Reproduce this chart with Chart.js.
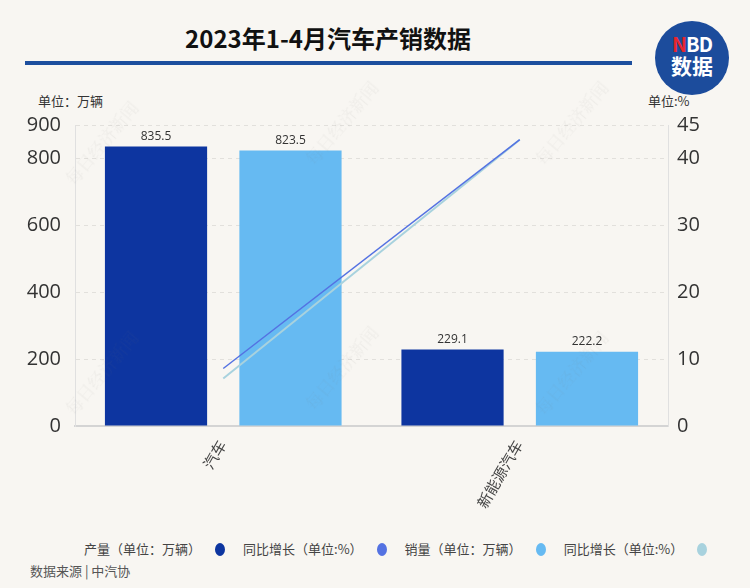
<!DOCTYPE html>
<html>
<head>
<meta charset="utf-8">
<script src="https://cdn.jsdelivr.net/npm/chart.js@4.4.0/dist/chart.umd.min.js"></script>
<style>
  html, body { margin: 0; padding: 0; }
  body {
    width: 750px; height: 588px; position: relative; overflow: hidden;
    background: #f8f6f2;
    font-family: 'Open Sans', 'Noto Sans CJK SC', sans-serif;
  }
  .title {
    position: absolute; left: 0; width: 656px; top: 20px; text-align: center;
    font-size: 24px; font-weight: bold; color: #111;
    font-family: 'Noto Sans CJK SC', sans-serif;
  }
  .rule { position: absolute; left: 25px; width: 607px; top: 61px; height: 4px; background: #1d4f9e; }
  .logo {
    position: absolute; left: 655px; top: 21px; width: 74px; height: 74px; border-radius: 50%;
    background: #1c4c9c; color: #fff; text-align: center;
    font-family: 'Noto Sans CJK SC', sans-serif; font-weight: bold;
  }
  .logo .nbd { font-size: 20px; line-height: 20px; margin-top: 13px; letter-spacing: -1px; }
  .logo .nbd span { color: #e8262c; }
  .logo .sj { font-size: 21px; line-height: 23px; }
  .unit { position: absolute; top: 91px; font-size: 13px; color: #333; font-family: 'Noto Sans CJK SC', sans-serif; }
  #wrap { position: absolute; left: 0; top: 99px; width: 750px; height: 421px; }
  .legend {
    position: absolute; top: 539px; left: 84px; font-size: 13px; color: #444;
    font-family: 'Noto Sans CJK SC', sans-serif; white-space: nowrap;
  }
  .legend .item { display: inline-block; margin-right: 18px; }
  .legend .dot { display: inline-block; width: 10px; height: 13px; border-radius: 50%; vertical-align: -2px; margin-left: 14px; }
  .source { position: absolute; top: 561px; left: 30px; font-size: 13px; color: #555; font-family: 'Noto Sans CJK SC', sans-serif; }
  .wm {
    position: absolute; font-size: 17px; color: rgba(120, 120, 120, 0.07); transform: rotate(-50deg);
    font-family: 'Noto Serif CJK SC', 'Noto Sans CJK SC', serif; white-space: nowrap; pointer-events: none;
  }
</style>
</head>
<body>
<div class="title">2023年1-4月汽车产销数据</div>
<div class="rule"></div>
<div class="logo"><div class="nbd"><span>N</span>BD</div><div class="sj">数据</div></div>
<div class="unit" style="left:38px">单位：万辆</div>
<div class="unit" style="left:648px">单位:%</div>
<div id="wrap"><canvas id="chart" width="750" height="421"></canvas></div>
<div class="legend" id="legend"></div>
<div class="source">数据来源 | 中汽协</div>
<div class="wm" style="left:50px;top:130px">每日经济新闻</div>
<div class="wm" style="left:290px;top:110px">每日经济新闻</div>
<div class="wm" style="left:520px;top:110px">每日经济新闻</div>
<div class="wm" style="left:50px;top:360px">每日经济新闻</div>
<div class="wm" style="left:290px;top:355px">每日经济新闻</div>
<div class="wm" style="left:520px;top:360px">每日经济新闻</div>
<script>
// 数据
const categories = ['汽车', '新能源汽车'];
const chanLiang = [835.5, 229.1];      // 产量（万辆）
const xiaoLiang = [823.5, 222.2];      // 销量（万辆）
const chanLiangTongBi = [8.6, 42.8];   // 产量同比增长（%）
const xiaoLiangTongBi = [7.1, 42.8];   // 销量同比增长（%）

const legendLabels = ['产量（单位：万辆）', '同比增长（单位:%）', '销量（单位：万辆）', '同比增长（单位:%）'];
const legendColors = ['#0d35a0', '#5472e2', '#66baf2', '#a8d2de'];

const FONT = "'Open Sans', 'Noto Sans CJK SC', sans-serif";

// số liệu trên đầu cột
const barValuePlugin = {
    id: 'barValue',
    afterDatasetsDraw(chart) {
        const ctx = chart.ctx;
        ctx.save();
        ctx.font = "12px " + FONT;
        ctx.fillStyle = '#333';
        ctx.textAlign = 'center';
        ctx.textBaseline = 'bottom';
        chart.data.datasets.forEach((ds, i) => {
            if (ds.type !== 'bar') return;
            chart.getDatasetMeta(i).data.forEach((bar, j) => {
                ctx.fillText(ds.data[j].toFixed(1), bar.x, bar.y - 4);
            });
        });
        ctx.restore();
    }
};

new Chart(document.getElementById('chart'), {
    data: {
        labels: categories,
        datasets: [
            { type: 'bar', label: legendLabels[0], data: chanLiang, backgroundColor: legendColors[0],
              yAxisID: 'y', barPercentage: 0.76, categoryPercentage: 0.907, order: 2 },
            { type: 'line', label: legendLabels[1], data: chanLiangTongBi, borderColor: '#5472e2',
              borderWidth: 1.5, pointRadius: 0, yAxisID: 'y1', order: 1 },
            { type: 'bar', label: legendLabels[2], data: xiaoLiang, backgroundColor: legendColors[2],
              yAxisID: 'y', barPercentage: 0.76, categoryPercentage: 0.907, order: 2 },
            { type: 'line', label: legendLabels[3], data: xiaoLiangTongBi, borderColor: '#a8d2de',
              borderWidth: 2, pointRadius: 0, yAxisID: 'y1', order: 1 }
        ]
    },
    options: {
        responsive: false,
        animation: false,
        layout: { padding: { top: 3, left: 0, right: 0, bottom: 0 } },
        plugins: { legend: { display: false }, tooltip: { enabled: false } },
        scales: {
            x: {
                grid: { display: false },
                border: { display: true, color: '#d4d4d4', width: 2 },
                ticks: { color: '#444', font: { size: 15, family: FONT }, minRotation: 60, maxRotation: 60, padding: 4 },
                afterFit(scale) { scale.height = 94; }
            },
            y: {
                position: 'left', min: 0, max: 900,
                ticks: { stepSize: 200, color: '#333', font: { size: 20, family: FONT }, padding: 14 },
                grid: { color: '#e2e0dc', drawTicks: false },
                border: { color: '#e0e0e0', width: 1, dash: [4, 4] },
                afterFit(scale) { scale.width = 75; }
            },
            y1: {
                position: 'right', min: 0, max: 45,
                ticks: { stepSize: 10, color: '#333', font: { size: 20, family: FONT }, padding: 9 },
                grid: { display: false, drawTicks: false },
                border: { color: '#e0e0e0', width: 1 },
                afterFit(scale) { scale.width = 82; }
            }
        }
    },
    plugins: [barValuePlugin]
});

// chú thích
let html = '';
legendLabels.forEach((t, i) => {
    html += `<span class="item">${t}<span class="dot" style="background:${legendColors[i]}"></span></span>`;
});
document.getElementById('legend').innerHTML = html;
</script>
</body>
</html>
